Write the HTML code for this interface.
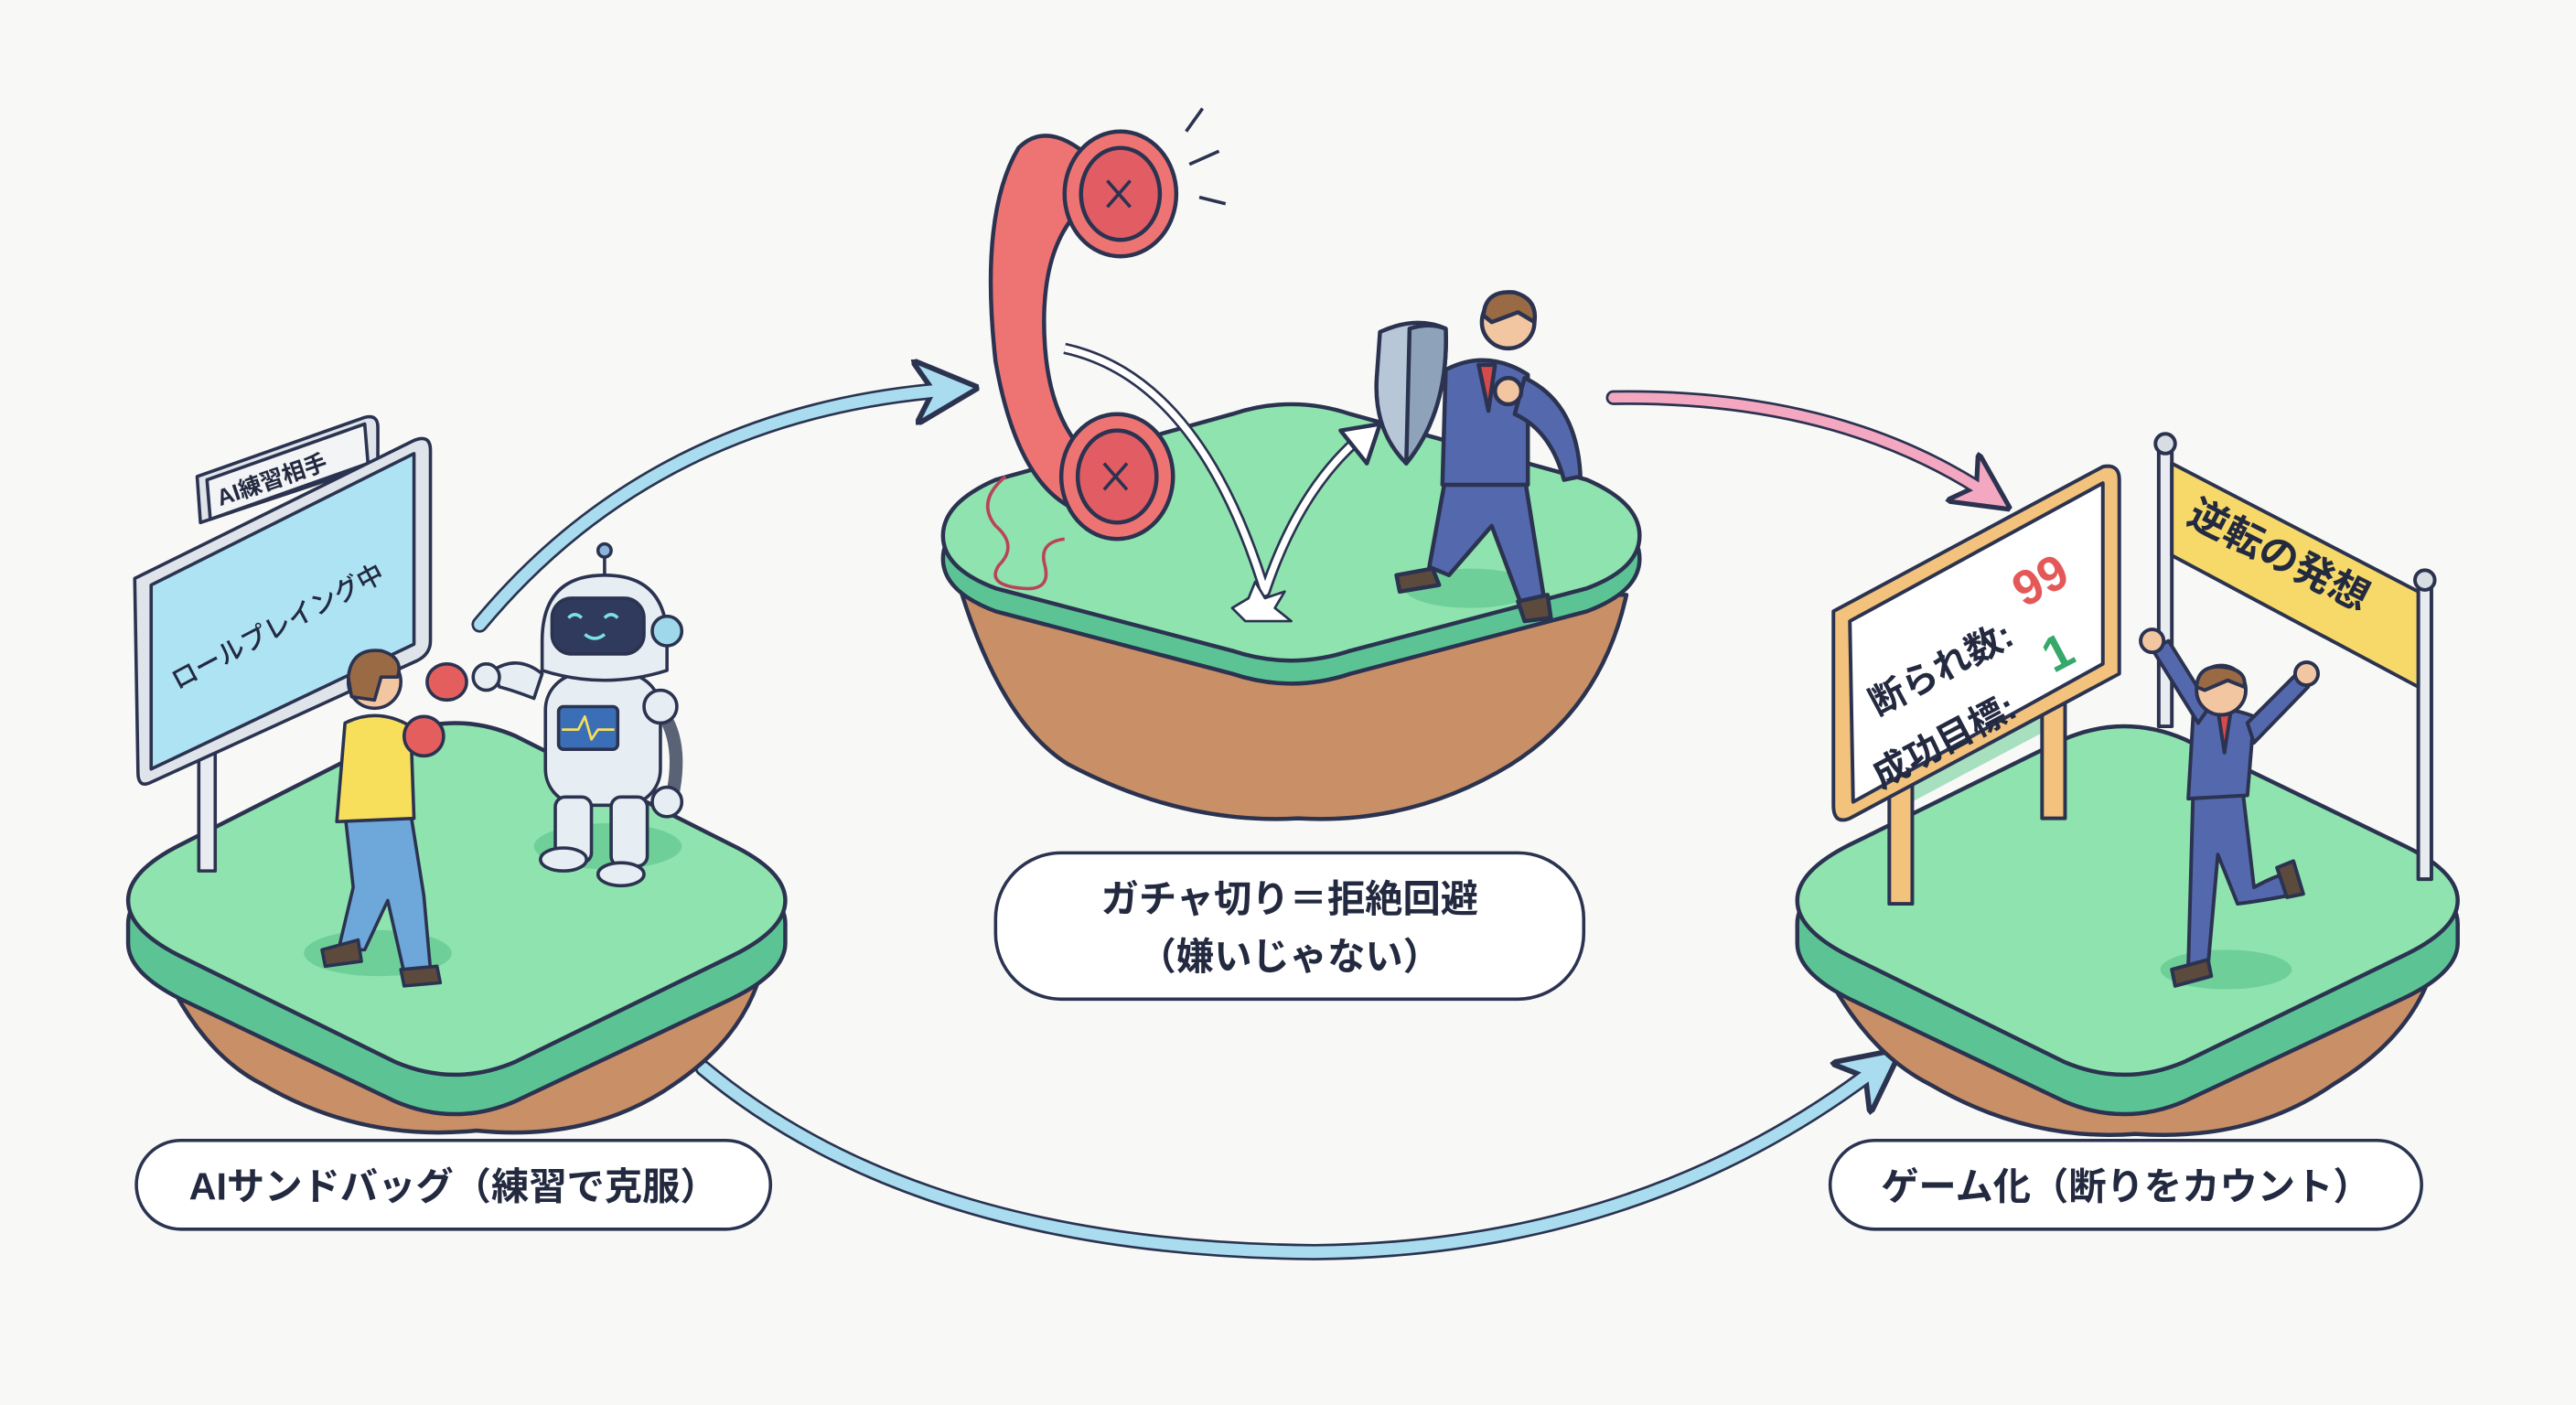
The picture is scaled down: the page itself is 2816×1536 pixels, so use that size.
<!DOCTYPE html>
<html><head><meta charset="utf-8"><style>
html,body{margin:0;padding:0;background:#f8f9f7;}
svg{display:block}
text{font-family:"Liberation Sans","Noto Sans CJK JP",sans-serif;fill:#232a40;}
</style></head><body>
<svg width="2816" height="1536" viewBox="0 0 1568 855" preserveAspectRatio="none" xmlns="http://www.w3.org/2000/svg">
<defs>
<marker id="ab" viewBox="0 0 10 10" refX="6" refY="5" markerWidth="4" markerHeight="4" orient="auto"><path d="M0,0 L10,5 L0,10 L3,5Z" fill="#a9dcef" stroke="#2b3350" stroke-width="0.8"/></marker>
<marker id="ap" viewBox="0 0 10 10" refX="6" refY="5" markerWidth="4" markerHeight="4" orient="auto"><path d="M0,0 L10,5 L0,10 L3,5Z" fill="#f4a7c0" stroke="#2b3350" stroke-width="0.8"/></marker>
</defs>
<rect width="1568" height="855" fill="#f8f9f7"/>

<!-- arrows -->
<path d="M292,380 Q400,250 580,237" fill="none" stroke="#2b3350" stroke-width="10" stroke-linecap="round" marker-end="url(#ab)"/>
<path d="M292,380 Q400,250 580,237" fill="none" stroke="#a9dcef" stroke-width="7" stroke-linecap="round"/>
<path d="M982,242 Q1120,240 1212,302" fill="none" stroke="#2b3350" stroke-width="9" stroke-linecap="round" marker-end="url(#ap)"/>
<path d="M982,242 Q1120,240 1212,302" fill="none" stroke="#f4a7c0" stroke-width="6" stroke-linecap="round"/>
<path d="M428,650 Q560,760 800,762 Q1000,760 1145,648" fill="none" stroke="#2b3350" stroke-width="10" stroke-linecap="round" marker-end="url(#ab)"/>
<path d="M428,650 Q560,760 800,762 Q1000,760 1145,648" fill="none" stroke="#a9dcef" stroke-width="7" stroke-linecap="round"/>

<!-- islands -->
<g stroke="#2b3350" stroke-width="2.5" stroke-linejoin="round">
<!-- left -->
<path d="M95,580 Q120,640 160,660 Q220,695 290,688 Q360,695 410,660 Q455,630 465,585Z" fill="#c98f66"/>
<path d="M78,562 Q78,544 110,528 L240,462 Q277,446 314,462 L445,528 Q478,544 478,562 L478,574 Q478,592 445,608 L314,670 Q277,686 240,670 L110,608 Q78,592 78,574Z" fill="#5cc494"/>
<path d="M78,548 Q78,530 110,514 L240,448 Q277,432 314,448 L445,514 Q478,530 478,548 Q478,566 445,582 L314,646 Q277,662 240,646 L110,582 Q78,566 78,548Z" fill="#8fe3ae"/>
<!-- middle -->
<path d="M585,360 Q610,440 650,465 Q720,502 790,498 Q860,502 920,465 Q975,430 990,362Z" fill="#c98f66"/>
<path d="M574,340 Q574,320 606,306 L750,266 Q786,254 822,266 L966,306 Q998,320 998,340 Q998,360 966,372 L822,410 Q786,422 750,410 L606,372 Q574,360 574,340Z" fill="#5cc494"/>
<path d="M574,326 Q574,306 606,292 L750,252 Q786,240 822,252 L966,292 Q998,306 998,326 Q998,346 966,358 L822,396 Q786,408 750,396 L606,358 Q574,346 574,326Z" fill="#8fe3ae"/>
<!-- right -->
<path d="M1108,585 Q1135,640 1175,660 Q1235,695 1300,690 Q1370,695 1420,660 Q1470,630 1482,585Z" fill="#c98f66"/>
<path d="M1094,562 Q1094,544 1126,528 L1256,464 Q1293,448 1330,464 L1462,528 Q1496,544 1496,562 L1496,574 Q1496,592 1462,608 L1330,670 Q1293,686 1256,670 L1126,608 Q1094,592 1094,574Z" fill="#5cc494"/>
<path d="M1094,548 Q1094,530 1126,514 L1256,450 Q1293,434 1330,450 L1462,514 Q1496,530 1496,548 Q1496,566 1462,582 L1330,646 Q1293,662 1256,646 L1126,582 Q1094,566 1094,548Z" fill="#8fe3ae"/>
</g>

<!-- LEFT: sign -->
<g stroke="#2b3350" stroke-width="2" stroke-linejoin="round">
<rect x="121" y="440" width="10" height="90" fill="#e8ecf0"/>
<path d="M120,290 L222,254 Q230,252 230,260 L230,282 L122,318Z" fill="#dfe4ea"/>
<path d="M126,292 L222,258 L224,282 L128,316Z" fill="#f2f4f6"/>
<path d="M82,352 L252,268 Q262,264 262,274 L262,390 Q262,398 254,402 L92,476 Q84,480 84,470Z" fill="#dfe4ea"/>
<path d="M92,356 L252,276 L252,392 L92,468Z" fill="#aee3f4"/>
</g>
<text x="0" y="0" font-size="14" font-weight="700" transform="translate(134,308) rotate(-19)">AI練習相手</text>
<text x="0" y="0" font-size="16" font-weight="500" transform="translate(108,420) rotate(-28)">ロールプレイング中</text>

<!-- person boxing -->
<g stroke="#2b3350" stroke-width="2" stroke-linejoin="round">
<ellipse cx="230" cy="580" rx="45" ry="14" fill="#6fcf99" stroke="none"/>
<ellipse cx="370" cy="515" rx="45" ry="14" fill="#6fcf99" stroke="none"/>
<path d="M210,495 L250,495 L258,545 L262,590 L246,592 L236,548 L222,578 L206,578 L215,540Z" fill="#6ea7da"/>
<path d="M196,578 L218,572 L220,585 L198,588Z" fill="#5c4a3d"/>
<path d="M244,590 L266,588 L268,598 L246,600Z" fill="#5c4a3d"/>
<path d="M210,440 Q230,430 250,442 L252,498 L205,500Z" fill="#f7de5b"/>
<circle cx="228" cy="415" r="16" fill="#f2c6a0"/>
<path d="M212,412 Q214,394 232,396 Q246,400 242,412 L232,412 L228,426 L214,424Z" fill="#9a6a45"/>
<ellipse cx="258" cy="448" rx="12" ry="12" fill="#e55e5e"/>
<ellipse cx="272" cy="415" rx="12" ry="11" fill="#e55e5e"/>
<!-- robot -->
<path d="M300,408 Q315,398 330,410 L325,425 Q312,420 304,418Z" fill="#e6edf3"/>
<circle cx="296" cy="412" r="8" fill="#e6edf3"/>
<rect x="332" y="410" width="70" height="80" rx="22" fill="#e6edf3"/>
<rect x="340" y="430" width="36" height="26" rx="3" fill="#3a6fb8"/>
<path d="M342,444 L352,444 L356,436 L360,450 L364,444 L374,444" fill="none" stroke="#f7de5b" stroke-width="1.5"/>
<rect x="338" y="485" width="22" height="40" rx="6" fill="#e6edf3"/>
<rect x="372" y="485" width="22" height="42" rx="6" fill="#e6edf3"/>
<ellipse cx="343" cy="523" rx="14" ry="7" fill="#e6edf3"/>
<ellipse cx="378" cy="532" rx="14" ry="7" fill="#e6edf3"/>
<path d="M400,430 Q418,450 408,490" fill="none" stroke="#5a6275" stroke-width="8"/>
<circle cx="402" cy="430" r="10" fill="#e6edf3"/>
<circle cx="406" cy="488" r="9" fill="#e6edf3"/>
<path d="M330,390 Q330,350 368,350 Q406,350 406,390 L406,408 Q368,420 330,408Z" fill="#e6edf3"/>
<rect x="336" y="364" width="56" height="34" rx="12" fill="#2f3a5c"/>
<path d="M346,376 q4,-4 8,0 M368,376 q4,-4 8,0 M356,386 q6,5 12,0" fill="none" stroke="#7be0e8" stroke-width="2"/>
<circle cx="406" cy="384" r="9" fill="#9fd8ea"/>
<line x1="368" y1="350" x2="368" y2="338"/>
<circle cx="368" cy="335" r="4" fill="#8cb4dc"/>
</g>

<!-- MIDDLE: phone -->
<g stroke="#2b3350" stroke-width="2.5" stroke-linejoin="round">
<path d="M612,290 q-18,15 -6,30 q14,12 2,24 q-8,12 14,14 q18,2 14,-14 q-4,-14 12,-16" fill="none" stroke="#b9445a" stroke-width="2"/>
<path d="M672,104 Q640,70 620,90 Q596,130 606,220 Q620,300 660,312 L680,290 Q640,270 636,210 Q632,150 660,125Z" fill="#ee7474"/>
<ellipse cx="682" cy="118" rx="34" ry="38" fill="#ee7474"/>
<ellipse cx="682" cy="118" rx="24" ry="28" fill="#e25c63"/>
<ellipse cx="680" cy="290" rx="34" ry="38" fill="#ee7474"/>
<ellipse cx="680" cy="290" rx="24" ry="28" fill="#e25c63"/>
<path d="M674,110 l14,16 M688,110 l-14,16 M672,282 l14,16 M686,282 l-14,16" stroke-width="2"/>
<path d="M724,100 l18,-8 M730,120 l16,4 M722,80 l10,-14" stroke-width="2"/>
<path d="M648,212 Q730,230 770,360 Q790,300 826,268" fill="none" stroke="#2b3350" stroke-width="7"/>
<path d="M648,212 Q730,230 770,360 Q790,300 826,268" fill="none" stroke="#ffffff" stroke-width="4"/>
<path d="M816,262 L840,258 L832,282Z" fill="#fff"/>
<path d="M750,370 l10,-6 l4,-10 l6,10 l12,-4 l-6,10 l10,8 l-28,0Z" fill="#fff" stroke-width="1.5"/>
<!-- businessman -->
<ellipse cx="895" cy="358" rx="40" ry="12" fill="#6fcf99" stroke="none"/>
<path d="M880,290 L928,290 L940,365 L926,368 L908,320 L882,350 L870,345Z" fill="#5468ad"/>
<path d="M850,350 l22,-4 l4,10 l-24,4Z M924,366 l18,-4 l2,14 l-16,2Z" fill="#5c4a3d"/>
<path d="M880,225 Q905,212 930,228 L930,295 L878,295Z" fill="#5468ad"/>
<path d="M928,230 Q960,245 962,290 L952,292 Q944,262 922,252Z" fill="#5468ad"/>
<path d="M900,222 L910,222 L906,250Z" fill="#d54a4a"/>
<circle cx="918" cy="196" r="16" fill="#f2c6a0"/>
<path d="M903,192 Q904,176 922,178 Q936,182 934,196 L924,190 L908,196Z" fill="#9a6a45"/>
<path d="M840,202 Q862,192 880,200 Q882,250 856,282 Q836,262 838,230Z" fill="#b8c7d8"/>
<path d="M858,200 Q870,196 880,200 Q882,250 856,282Z" fill="#8ea3ba"/>
<circle cx="918" cy="238" r="8" fill="#f2c6a0"/>
</g>

<!-- RIGHT: scoreboard -->
<g stroke="#2b3350" stroke-width="2.2" stroke-linejoin="round">
<ellipse cx="1355" cy="590" rx="40" ry="12" fill="#6fcf99" stroke="none"/>
<path d="M1150,480 L1250,430 L1258,438 L1160,490Z" fill="#6fcf99" stroke="none" opacity="0.6"/>
<rect x="1150" y="470" width="14" height="80" fill="#f3c27c"/>
<rect x="1243" y="420" width="14" height="78" fill="#f3c27c"/>
<path d="M1116,372 L1280,284 Q1290,282 1290,292 L1290,410 L1126,498 Q1116,502 1116,490Z" fill="#f3c27c"/>
<path d="M1126,378 L1280,294 L1280,404 L1128,488Z" fill="#fff"/>
<rect x="1314" y="272" width="8" height="170" fill="#e8ecf0"/>
<circle cx="1318" cy="270" r="6" fill="#d8dde3"/>
<rect x="1472" y="355" width="8" height="180" fill="#e8ecf0"/>
<circle cx="1476" cy="353" r="6" fill="#d8dde3"/>
<path d="M1322,282 L1472,360 L1472,418 L1322,338Z" fill="#f7d96a"/>
<!-- jumping man -->
<path d="M1335,480 L1365,480 L1372,540 Q1390,530 1396,532 L1398,544 Q1378,548 1362,550 L1350,520 L1344,588 L1332,588Z" fill="#5468ad"/>
<path d="M1322,590 l22,-6 l2,10 l-22,6Z M1386,528 l10,-4 l6,20 l-10,2Z" fill="#5c4a3d"/>
<path d="M1335,435 Q1352,428 1372,436 L1368,484 L1332,486Z" fill="#5468ad"/>
<path d="M1338,440 L1310,395 L1320,390 L1345,430Z" fill="#5468ad"/>
<path d="M1368,440 L1398,410 L1405,418 L1372,452Z" fill="#5468ad"/>
<circle cx="1310" cy="390" r="7" fill="#f2c6a0"/>
<circle cx="1404" cy="410" r="7" fill="#f2c6a0"/>
<path d="M1350,432 L1358,432 L1354,458Z" fill="#d54a4a"/>
<circle cx="1352" cy="420" r="15" fill="#f2c6a0"/>
<path d="M1337,418 Q1338,404 1354,406 Q1368,408 1366,418 L1356,414 L1342,420Z" fill="#9a6a45"/>
</g>
<text x="0" y="0" font-size="22" font-weight="700" transform="translate(1143,436) rotate(-28)">断られ数:</text>
<text x="0" y="0" font-size="30" font-weight="700" style="fill:#e45858" transform="translate(1232,370) rotate(-28)">99</text>
<text x="0" y="0" font-size="22" font-weight="700" transform="translate(1145,480) rotate(-28)">成功目標:</text>
<text x="0" y="0" font-size="30" font-weight="700" style="fill:#36a86a" transform="translate(1250,410) rotate(-28)">1</text>
<text x="0" y="0" font-size="24" font-weight="700" transform="translate(1330,318) rotate(27)">逆転の発想</text>

<!-- labels -->
<g stroke="#2b3350" stroke-width="2" fill="#fff">
<rect x="83" y="694" width="386" height="54" rx="27"/>
<rect x="606" y="519" width="358" height="89" rx="40"/>
<rect x="1114" y="694" width="360" height="54" rx="27"/>
</g>
<text x="276" y="730" font-size="23" font-weight="700" text-anchor="middle">AIサンドバッグ（練習で克服）</text>
<text x="785" y="555" font-size="23" font-weight="700" text-anchor="middle">ガチャ切り＝拒絶回避</text>
<text x="785" y="590" font-size="23" font-weight="700" text-anchor="middle">（嫌いじゃない）</text>
<text x="1294" y="730" font-size="23" font-weight="700" text-anchor="middle">ゲーム化（断りをカウント）</text>
</svg>
</body></html>
